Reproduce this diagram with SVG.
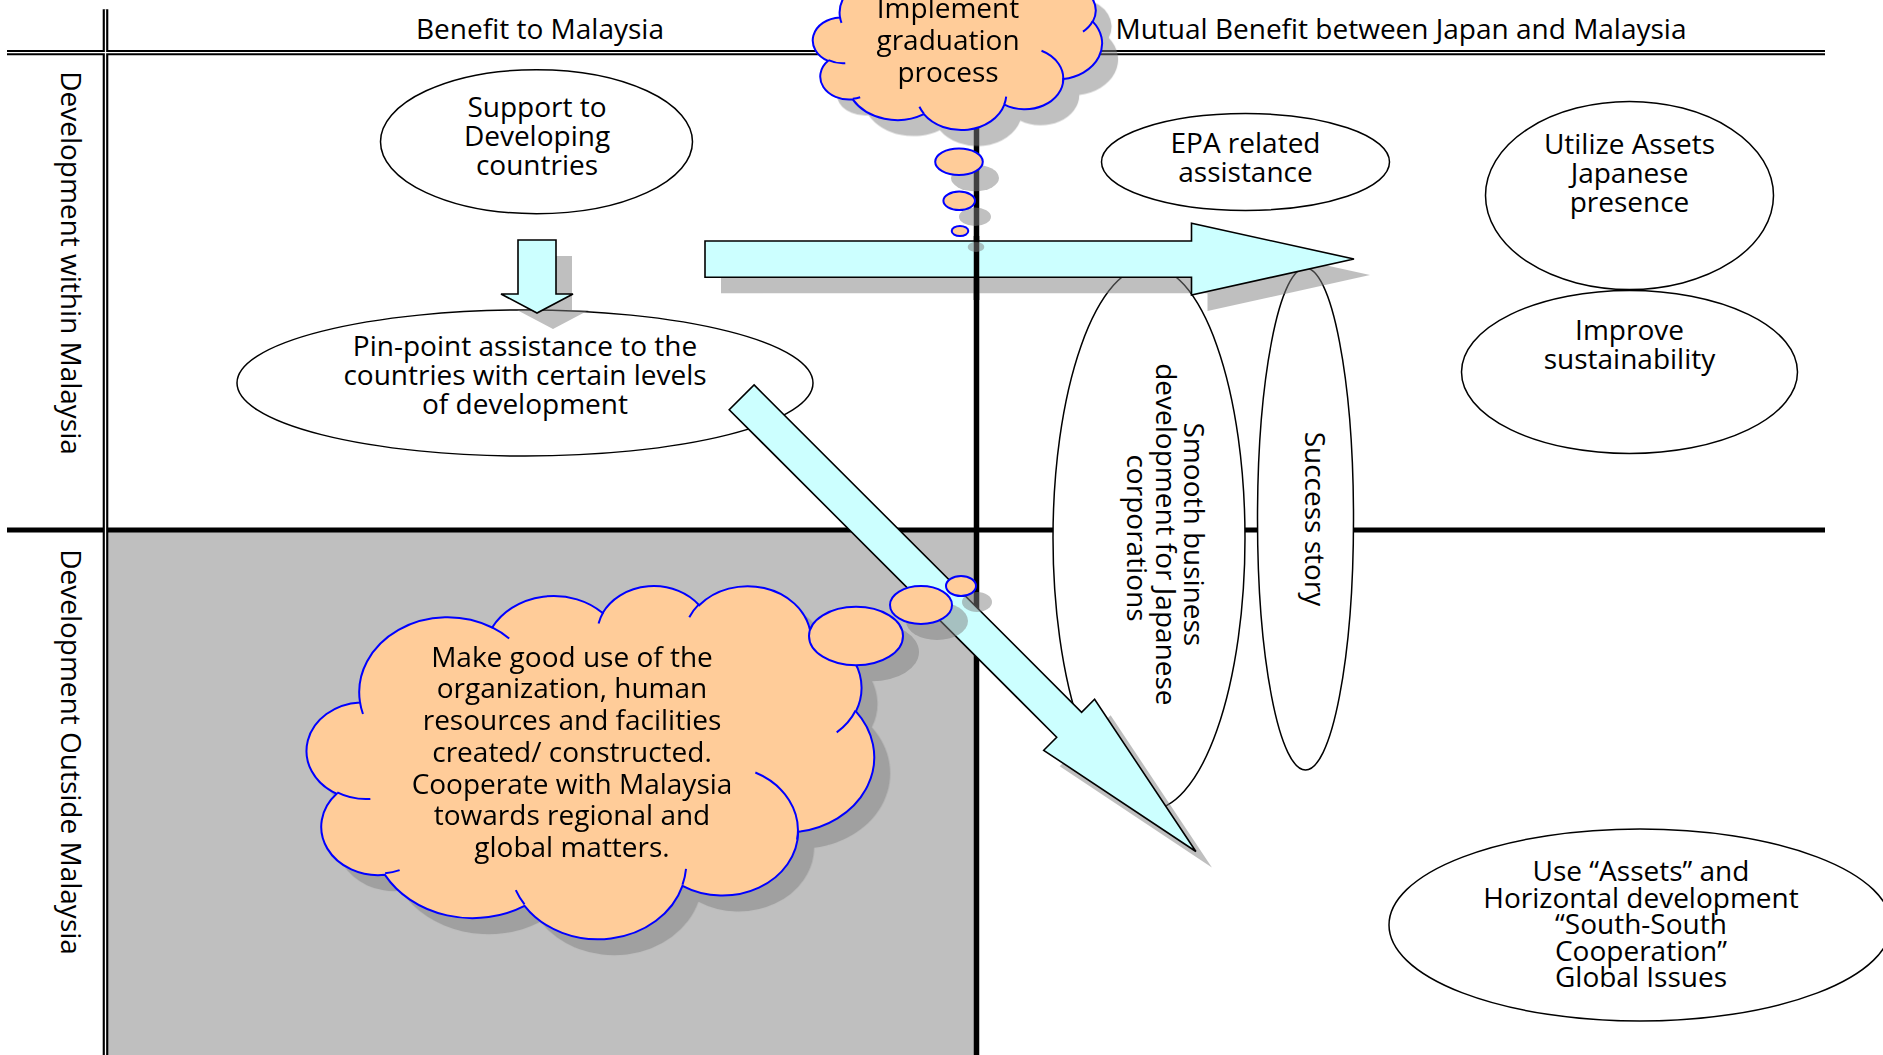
<svg xmlns="http://www.w3.org/2000/svg" xmlns:xlink="http://www.w3.org/1999/xlink" width="1883" height="1055" viewBox="0 0 1883 1055">
<style>
  text { font-family: "Open Sans", "Liberation Sans", sans-serif; font-size: 28px; fill: #000; }
  .c { text-anchor: middle; }
  .ell { fill: #ffffff; stroke: #000000; stroke-width: 1.5; }
  .arrow { fill: #ccffff; stroke: #000000; stroke-width: 1.6; stroke-linejoin: miter; }
  .shadow { fill: #808080; }
  .cloud { fill: #ffcc99; stroke: #0000ff; stroke-width: 2; }
  .hint { fill: none; stroke: #0000ff; stroke-width: 2; }
  .bk { stroke: #000000; fill: none; }
  .wh { stroke: #ffffff; fill: none; }
</style>
<defs>
  <path id="cloudShape" vector-effect="non-scaling-stroke" d="M 9.03 33.26 A 15.63 21.27 0 0 1 32.42 12.04 A 12.34 16.82 0 0 1 51.98 7.94 A 10.10 13.76 0 0 1 69.06 5.74 A 11.24 15.27 0 0 1 88.70 12.91 A 12.34 16.84 0 0 1 96.80 35.79 A 15.68 21.34 0 0 1 86.58 69.91 A 13.39 18.21 0 0 1 66.10 85.21 A 15.63 21.33 0 0 1 38.15 90.89 A 17.87 24.41 0 0 1 13.44 82.11 A 10.09 13.70 0 0 1 4.89 59.14 A 10.06 13.76 0 0 1 9.03 33.26 Z"/>
  <path id="cloudHints" vector-effect="non-scaling-stroke" d="M 10.86 60.59 A 10.06 13.76 0 0 1 5.00 58.75 M 16.04 80.78 A 10.09 13.70 0 0 1 13.47 81.67 M 38.14 90.49 A 15.63 21.33 0 0 1 36.60 86.45 M 66.73 80.44 A 15.63 21.33 0 0 1 66.11 84.86 M 79.00 53.13 A 13.39 18.21 0 0 1 86.39 72.15 M 96.75 35.54 A 12.34 16.84 0 0 1 93.40 41.74 M 88.71 12.56 A 11.24 15.27 0 0 1 88.89 15.49 M 67.31 9.15 A 11.24 15.27 0 0 1 69.03 5.41 M 51.25 10.93 A 10.10 13.76 0 0 1 52.08 7.71 M 32.41 12.02 A 15.63 21.27 0 0 1 35.43 15.16 M 9.55 36.55 A 15.63 21.27 0 0 1 9.03 33.27"/>
</defs>

<rect x="0" y="0" width="1883" height="1055" fill="#ffffff"/>

<g id="grid">
  <rect x="106" y="530" width="870" height="525" fill="#bfbfbf"/>
  <line class="bk" x1="7" y1="530" x2="1825" y2="530" stroke-width="5"/>
  <line class="bk" x1="7" y1="52.6" x2="1825" y2="52.6" stroke-width="5.3"/>
  <line class="bk" x1="105.5" y1="9.3" x2="105.5" y2="1055" stroke-width="5.6"/>
  <line class="wh" x1="7" y1="52.6" x2="1825" y2="52.6" stroke-width="1.3"/>
  <line class="wh" x1="105.5" y1="9.3" x2="105.5" y2="1055" stroke-width="1.3"/>
  <line class="bk" x1="976.5" y1="52" x2="976.5" y2="1055" stroke-width="5.5"/>
  <text class="c" x="540" y="39">Benefit to Malaysia</text>
  <text class="c" x="1401" y="39">Mutual Benefit between Japan and Malaysia</text>
  <text class="c" transform="translate(61,263) rotate(90)">Development within Malaysia</text>
  <text class="c" transform="translate(61,752) rotate(90)">Development Outside Malaysia</text>
</g>

<g id="node-support">
  <ellipse class="ell" cx="536.5" cy="141.7" rx="156" ry="72"/>
  <text class="c" x="537" y="116.7">Support to</text>
  <text class="c" x="537" y="145.7">Developing</text>
  <text class="c" x="537" y="174.7">countries</text>
</g>

<g id="node-pinpoint">
  <ellipse class="ell" cx="525" cy="383" rx="288" ry="73"/>
  <text class="c" x="525" y="356">Pin-point assistance to the</text>
  <text class="c" x="525" y="385">countries with certain levels</text>
  <text class="c" x="525" y="414">of development</text>
</g>

<g id="node-epa">
  <ellipse class="ell" cx="1245.5" cy="162" rx="144" ry="48.5"/>
  <text class="c" x="1245.5" y="152.7">EPA related</text>
  <text class="c" x="1245.5" y="182">assistance</text>
</g>

<g id="node-utilize">
  <ellipse class="ell" cx="1629.5" cy="195.5" rx="144" ry="94"/>
  <text class="c" x="1629.5" y="154">Utilize Assets</text>
  <text class="c" x="1629.5" y="183">Japanese</text>
  <text class="c" x="1629.5" y="212">presence</text>
</g>

<g id="node-improve">
  <ellipse class="ell" cx="1629.5" cy="372" rx="168" ry="81.5"/>
  <text class="c" x="1629.5" y="339.5">Improve</text>
  <text class="c" x="1629.5" y="369">sustainability</text>
</g>

<g id="node-smooth">
  <ellipse class="ell" cx="1149" cy="538" rx="96" ry="272"/>
  <text class="c" transform="translate(1149,538) rotate(90)">
    <tspan x="0" y="-35">Smooth business</tspan>
    <tspan x="0" y="-6.5">development for Japanese</tspan>
    <tspan x="0" y="22">corporations</tspan>
  </text>
</g>

<g id="node-success">
  <ellipse class="ell" cx="1305.5" cy="519" rx="48" ry="251"/>
  <text class="c" transform="translate(1305.5,519) rotate(90)" x="0" y="1">Success story</text>
</g>

<g id="node-assets">
  <ellipse class="ell" cx="1640" cy="925" rx="251" ry="96"/>
  <text class="c" x="1641" y="881">Use “Assets” and</text>
  <text class="c" x="1641" y="907.5">Horizontal development</text>
  <text class="c" x="1641" y="934">“South-South</text>
  <text class="c" x="1641" y="960.5">Cooperation”</text>
  <text class="c" x="1641" y="987">Global Issues</text>
</g>

<g id="connectors">
  <g opacity="0.5" class="shadow">
    <polygon points="534,256 572,256 572,310 589,310 553,329 517,310 534,310"/>
    <polygon points="721,257 1207.5,257 1207.5,239.3 1370,275 1207.5,311 1207.5,293.3 721,293.3"/>
  </g>
  <polygon id="arrow-down" class="arrow" points="518,240 556,240 556,294 573,294 537,313 501,294 518,294"/>
  <polygon id="arrow-right" class="arrow" points="705,241 1191.5,241 1191.5,223.3 1354,259 1191.5,295 1191.5,277.3 705,277.3"/>
  <line class="bk" x1="976.5" y1="236" x2="976.5" y2="300" stroke-width="5.5"/>
  <polygon opacity="0.5" class="shadow" points="770.1,400.9 1097.6,728.3 1110.6,715.3 1211.9,867.5 1059.7,766.3 1072.7,753.2 745.2,425.7"/>
  <polygon id="arrow-diagonal" class="arrow" points="754.1,384.9 1081.6,712.3 1094.6,699.3 1195.9,851.5 1043.7,750.3 1056.7,737.2 729.2,409.7"/>
</g>

<g id="node-cloud-graduation">
  <g opacity="0.5" class="shadow">
    <use xlink:href="#cloudShape" transform="translate(830,-22.5) scale(2.88,1.68)"/>
    <ellipse cx="975" cy="178" rx="24" ry="13.3"/>
    <ellipse cx="975" cy="216.8" rx="16" ry="9.2"/>
    <ellipse cx="976" cy="247" rx="8.3" ry="5"/>
  </g>
  <use xlink:href="#cloudShape" class="cloud" transform="translate(814,-38.5) scale(2.88,1.68)"/>
  <use xlink:href="#cloudHints" class="hint" transform="translate(814,-38.5) scale(2.88,1.68)"/>
  <ellipse class="cloud" cx="959" cy="161.7" rx="23.8" ry="13.3"/>
  <ellipse class="cloud" cx="959.2" cy="200.8" rx="15.8" ry="9.2"/>
  <ellipse class="cloud" cx="960" cy="231" rx="8.3" ry="5"/>
  <text class="c" x="948" y="18.3">Implement</text>
  <text class="c" x="948" y="50">graduation</text>
  <text class="c" x="948" y="81.7">process</text>
</g>

<g id="node-cloud-cooperate">
  <g opacity="0.5" class="shadow">
    <use xlink:href="#cloudShape" transform="translate(325,601) scale(5.65,3.53)"/>
    <ellipse cx="872" cy="652" rx="47" ry="29.3"/>
    <ellipse cx="937" cy="621" rx="31" ry="19"/>
    <ellipse cx="977" cy="602" rx="15" ry="10"/>
  </g>
  <use xlink:href="#cloudShape" class="cloud" transform="translate(309,585) scale(5.65,3.53)"/>
  <use xlink:href="#cloudHints" class="hint" transform="translate(309,585) scale(5.65,3.53)"/>
  <ellipse class="cloud" cx="856" cy="636" rx="47" ry="29.3"/>
  <ellipse class="cloud" cx="921" cy="605" rx="31" ry="19"/>
  <ellipse class="cloud" cx="961" cy="586" rx="15" ry="10"/>
  <text class="c" x="572" y="666.7">Make good use of the</text>
  <text class="c" x="572" y="698.4">organization, human</text>
  <text class="c" x="572" y="730.1">resources and facilities</text>
  <text class="c" x="572" y="761.8">created/ constructed.</text>
  <text class="c" x="572" y="793.5">Cooperate with Malaysia</text>
  <text class="c" x="572" y="825.2">towards regional and</text>
  <text class="c" x="572" y="856.9">global matters.</text>
</g>
</svg>
